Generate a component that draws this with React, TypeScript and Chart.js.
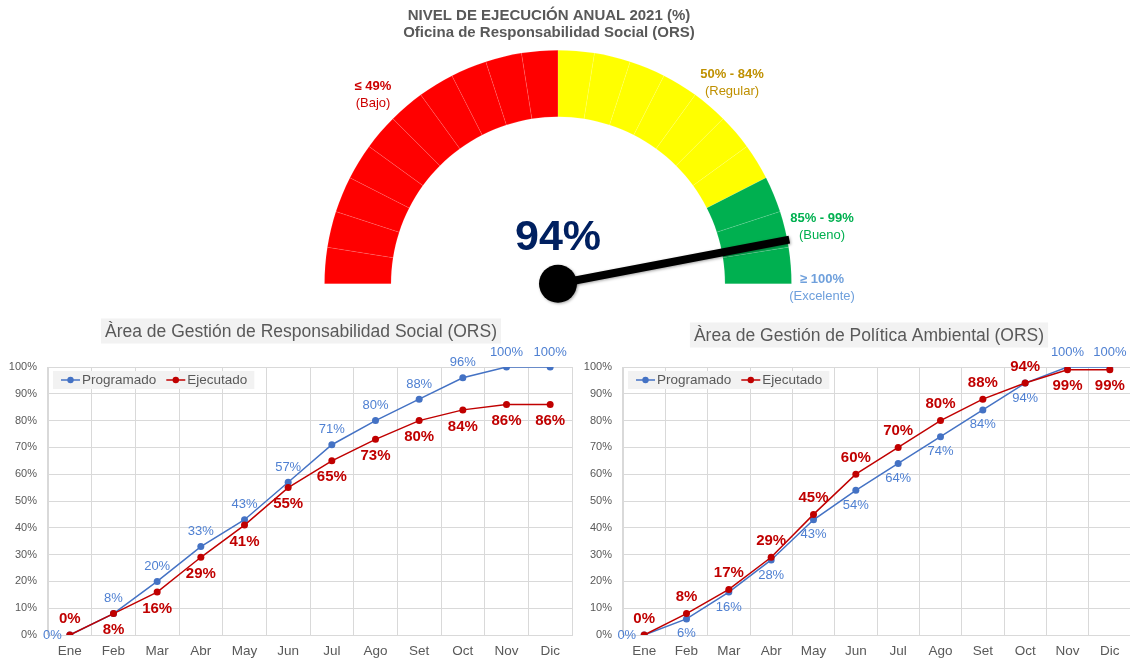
import React, { useEffect, useRef } from 'react';
import { Chart, registerables } from 'chart.js';

Chart.register(...registerables);

const FONT = '"Liberation Sans", Arial, Helvetica, sans-serif';

// ---------- Gauge data ----------
const gaugeTitle = ['NIVEL DE EJECUCIÓN ANUAL 2021 (%)', 'Oficina de Responsabilidad Social (ORS)'];
const gaugeValue = 94;
const gaugeSegments = [5, 5, 5, 5, 5, 5, 5, 5, 5, 5, 5, 5, 5, 5, 5, 5, 5, 5, 5, 5];
const gaugeSegmentColors = [
  '#FF0000', '#FF0000', '#FF0000', '#FF0000', '#FF0000',
  '#FF0000', '#FF0000', '#FF0000', '#FF0000', '#FF0000',
  '#FFFF00', '#FFFF00', '#FFFF00', '#FFFF00', '#FFFF00', '#FFFF00', '#FFFF00',
  '#00B050', '#00B050', '#00B050',
];
const gaugeBandRanges = ['≤ 49%', '50% - 84%', '85% - 99%', '≥ 100%'];
const gaugeBandNames = ['(Bajo)', '(Regular)', '(Bueno)', '(Excelente)'];
const gaugeBandColors = ['#CC0000', '#BF9000', '#00B050', '#6FA0DC'];
// label placement relative to gauge centre (dx, dy of first line)
const gaugeBandOffsets = [[-185, -197], [174, -209], [264, -65], [264, -4]];

// ---------- Line chart data ----------
const months = ['Ene', 'Feb', 'Mar', 'Abr', 'May', 'Jun', 'Jul', 'Ago', 'Set', 'Oct', 'Nov', 'Dic'];
const seriesNames = ['Programado', 'Ejecutado'];

const socialTitle = 'Àrea de Gestión de Responsabilidad Social (ORS)';
const socialProgramado = [0, 8, 20, 33, 43, 57, 71, 80, 88, 96, 100, 100];
const socialEjecutado = [0, 8, 16, 29, 41, 55, 65, 73, 80, 84, 86, 86];

const ambientalTitle = 'Àrea de Gestión de Política Ambiental (ORS)';
const ambientalProgramado = [0, 6, 16, 28, 43, 54, 64, 74, 84, 94, 100, 100];
const ambientalEjecutado = [0, 8, 17, 29, 45, 60, 70, 80, 88, 94, 99, 99];

// label placement (style, not data)
const socialProgPos = ['left', 'above', 'above', 'above', 'above', 'above', 'above', 'above', 'above', 'above', 'above', 'above'];
const socialEjecPos = ['above', 'below', 'below', 'below', 'below', 'below', 'below', 'below', 'below', 'below', 'below', 'below'];
const ambientalProgPos = ['left', 'below', 'below', 'below', 'below', 'below', 'below', 'below', 'below', 'below', 'above', 'above'];
const ambientalEjecPos = ['above', 'above', 'above', 'above', 'above', 'above', 'above', 'above', 'above', 'above', 'below', 'below'];

const BLUE = '#4472C4';
const BLUE_LABEL = '#4F80D2';
const RED = '#C00000';
const GRID = '#D9D9D9';
const TXT = '#595959';

const gaugePlugin = {
  id: 'gaugeDecor',
  afterDatasetsDraw(chart: any) {
    const arc: any = chart.getDatasetMeta(0).data[0];
    if (!arc) return;
    const cx = arc.x;
    const cy = arc.y;
    const R = arc.outerRadius;
    const ctx = chart.ctx;
    ctx.save();
    // title
    ctx.fillStyle = TXT;
    ctx.textAlign = 'center';
    ctx.textBaseline = 'middle';
    ctx.font = `bold 15px ${FONT}`;
    ctx.fillText(gaugeTitle[0], 549, 16);
    ctx.fillText(gaugeTitle[1], 549, 32.5);
    // band labels
    gaugeBandRanges.forEach((r, i) => {
      const [dx, dy] = gaugeBandOffsets[i];
      ctx.fillStyle = gaugeBandColors[i];
      ctx.font = `bold 13px ${FONT}`;
      ctx.fillText(r, cx + dx, cy + dy);
      ctx.font = `13px ${FONT}`;
      ctx.fillText(gaugeBandNames[i], cx + dx, cy + dy + 16.5);
    });
    // value
    ctx.fillStyle = '#002060';
    ctx.font = `bold 43px ${FONT}`;
    ctx.fillText(gaugeValue + '%', cx, cy - 46);
    // needle
    const ang = -Math.PI + (gaugeValue / 100) * Math.PI;
    const L = R + 2;
    ctx.shadowColor = 'rgba(0,0,0,0.35)';
    ctx.shadowBlur = 3;
    ctx.shadowOffsetX = 1;
    ctx.shadowOffsetY = 1;
    ctx.strokeStyle = '#000';
    ctx.lineWidth = 8;
    ctx.lineCap = 'butt';
    ctx.beginPath();
    ctx.moveTo(cx, cy);
    ctx.lineTo(cx + L * Math.cos(ang), cy + L * Math.sin(ang));
    ctx.stroke();
    ctx.fillStyle = '#000';
    ctx.beginPath();
    ctx.arc(cx, cy, 19, 0, Math.PI * 2);
    ctx.fill();
    ctx.restore();
  },
};

const titleBoxPlugin = {
  id: 'titleBox',
  afterDraw(chart: any, _args: any, opts: any) {
    const ctx = chart.ctx;
    ctx.save();
    ctx.font = `17.5px ${FONT}`;
    const w = ctx.measureText(opts.text).width;
    ctx.fillStyle = '#F2F2F2';
    ctx.fillRect(opts.cx - w / 2 - 4, opts.cy - 12.5, w + 8, 25);
    ctx.fillStyle = TXT;
    ctx.textAlign = 'center';
    ctx.textBaseline = 'middle';
    ctx.fillText(opts.text, opts.cx, opts.cy + 1);
    ctx.restore();
  },
};

const legendBoxPlugin = {
  id: 'legendBox',
  afterDraw(chart: any) {
    const ctx = chart.ctx;
    const area = chart.chartArea;
    const x0 = area.left + 5;
    const y0 = area.top + 4;
    const h = 18;
    const cy = y0 + h / 2;
    ctx.save();
    ctx.font = `13.5px ${FONT}`;
    const items = chart.data.datasets.map((ds: any) => ({ text: ds.label, color: ds.borderColor }));
    let total = 8;
    items.forEach((it: any, i: number) => {
      total += 21 + ctx.measureText(it.text).width + (i < items.length - 1 ? 10 : 7);
    });
    ctx.fillStyle = '#F2F2F2';
    ctx.fillRect(x0, y0, total, h);
    let x = x0 + 8;
    items.forEach((it: any) => {
      ctx.strokeStyle = it.color;
      ctx.lineWidth = 1.5;
      ctx.beginPath();
      ctx.moveTo(x, cy);
      ctx.lineTo(x + 19, cy);
      ctx.stroke();
      ctx.fillStyle = it.color;
      ctx.beginPath();
      ctx.arc(x + 9.5, cy, 3.2, 0, Math.PI * 2);
      ctx.fill();
      ctx.fillStyle = TXT;
      ctx.textAlign = 'left';
      ctx.textBaseline = 'middle';
      ctx.fillText(it.text, x + 21, cy + 0.5);
      x += 21 + ctx.measureText(it.text).width + 10;
    });
    ctx.restore();
  },
};

const pointLabelPlugin = {
  id: 'pointLabels',
  afterDatasetsDraw(chart: any, _args: any, opts: any) {
    const ctx = chart.ctx;
    chart.data.datasets.forEach((ds: any, i: number) => {
      const meta = chart.getDatasetMeta(i);
      const st = opts.styles[i];
      const pos = opts.positions[i];
      ctx.save();
      ctx.font = `${st.weight} ${st.size}px ${FONT}`;
      ctx.fillStyle = st.color;
      ctx.textBaseline = 'middle';
      meta.data.forEach((pt: any, j: number) => {
        const p = pos[j];
        const text = ds.data[j] + '%';
        let x = pt.x;
        let y = pt.y;
        if (p === 'left') {
          ctx.textAlign = 'right';
          x -= 8;
        } else {
          ctx.textAlign = 'center';
          y += p === 'above' ? -st.off : st.off;
        }
        ctx.fillText(text, x, y);
      });
      ctx.restore();
    });
  },
};

function lineConfig(
  title: string,
  titleCx: number,
  titleCy: number,
  prog: number[],
  ejec: number[],
  progPos: string[],
  ejecPos: string[],
  padRight: number,
): any {
  return {
    type: 'line',
    data: {
      labels: months,
      datasets: [
        {
          label: seriesNames[0],
          data: prog,
          borderColor: BLUE,
          backgroundColor: BLUE,
          borderWidth: 1.5,
          pointRadius: 3.5,
          pointBorderWidth: 0,
          pointBackgroundColor: BLUE,
          tension: 0,
          order: 1,
        },
        {
          label: seriesNames[1],
          data: ejec,
          borderColor: RED,
          backgroundColor: RED,
          borderWidth: 1.5,
          pointRadius: 3.5,
          pointBorderWidth: 0,
          pointBackgroundColor: RED,
          tension: 0,
          order: 0,
        },
      ],
    },
    options: {
      responsive: false,
      animation: false,
      events: [],
      layout: { padding: { top: 57, right: padRight, left: 0, bottom: 0 } },
      scales: {
        x: {
          type: 'category',
          offset: true,
          grid: { offset: true, color: GRID, lineWidth: 1, drawTicks: false },
          border: { color: GRID, width: 1 },
          ticks: { color: TXT, font: { family: FONT, size: 13.5 }, padding: 8, maxRotation: 0, autoSkip: false },
          afterFit: (s: any) => {
            s.height = 28;
          },
        },
        y: {
          min: 0,
          max: 100,
          grid: { color: GRID, lineWidth: 1, drawTicks: false },
          border: { color: GRID, width: 1 },
          ticks: {
            stepSize: 10,
            color: TXT,
            font: { family: FONT, size: 11 },
            padding: 11,
            callback: (v: any) => v + '%',
          },
          afterFit: (s: any) => {
            s.width = 48;
          },
        },
      },
      plugins: {
        legend: { display: false },
        tooltip: { enabled: false },
        title: { display: false },
        titleBox: { text: title, cx: titleCx, cy: titleCy },
        pointLabels: {
          positions: [progPos, ejecPos],
          styles: [
            { weight: 'normal', size: 13, color: BLUE_LABEL, off: 15 },
            { weight: 'bold', size: 15, color: RED, off: 16.5 },
          ],
        },
      },
    },
    plugins: [titleBoxPlugin, legendBoxPlugin, pointLabelPlugin],
  };
}

export default function App() {
  const gaugeRef = useRef<HTMLCanvasElement>(null);
  const leftRef = useRef<HTMLCanvasElement>(null);
  const rightRef = useRef<HTMLCanvasElement>(null);

  useEffect(() => {
    const charts: Chart[] = [];
    if (gaugeRef.current) {
      charts.push(
        new Chart(gaugeRef.current, {
          type: 'doughnut',
          data: {
            labels: gaugeSegments.map((_, i) => String(i)),
            datasets: [
              {
                data: gaugeSegments,
                backgroundColor: gaugeSegmentColors,
                borderColor: 'rgba(255,255,255,0.22)',
                borderWidth: 0.5,
                hoverOffset: 0,
              },
            ],
          },
          options: {
            responsive: false,
            animation: false,
            events: [],
            rotation: -90,
            circumference: 180,
            cutout: '71.5%',
            layout: { padding: { left: 324, right: 338, top: 50, bottom: 28 } },
            plugins: { legend: { display: false }, tooltip: { enabled: false }, title: { display: false } },
          } as any,
          plugins: [gaugePlugin],
        }),
      );
    }
    if (leftRef.current) {
      charts.push(
        new Chart(
          leftRef.current,
          lineConfig(socialTitle, 301, 21, socialProgramado, socialEjecutado, socialProgPos, socialEjecPos, 6),
        ),
      );
    }
    if (rightRef.current) {
      charts.push(
        new Chart(
          rightRef.current,
          lineConfig(ambientalTitle, 294, 25, ambientalProgramado, ambientalEjecutado, ambientalProgPos, ambientalEjecPos, 2),
        ),
      );
    }
    return () => charts.forEach((c) => c.destroy());
  }, []);

  return (
    <div
      style={{
        position: 'fixed',
        left: 0,
        top: 0,
        width: 1130,
        height: 663,
        overflow: 'hidden',
        background: '#fff',
      }}
    >
      <canvas ref={gaugeRef} width={1130} height={312} style={{ position: 'absolute', left: 0, top: 0 }} />
      <canvas ref={leftRef} width={578} height={353} style={{ position: 'absolute', left: 0, top: 310 }} />
      <canvas ref={rightRef} width={560} height={353} style={{ position: 'absolute', left: 575, top: 310 }} />
    </div>
  );
}
